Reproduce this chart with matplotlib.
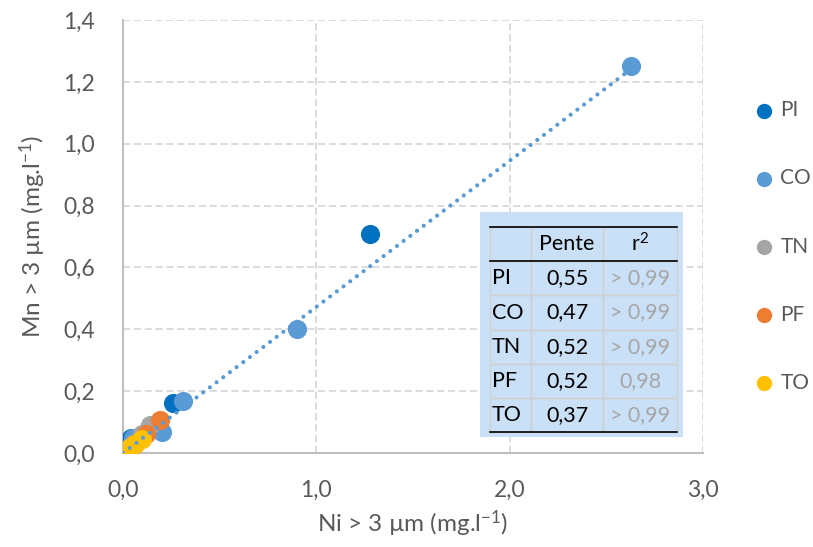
import matplotlib
matplotlib.use("Agg")
import matplotlib.pyplot as plt
import numpy as np
from matplotlib.patches import Rectangle
from matplotlib.ticker import FuncFormatter

plt.rcParams['font.family'] = ['Lato', 'DejaVu Sans']
plt.rcParams['mathtext.fontset'] = 'custom'
plt.rcParams['mathtext.rm'] = 'Lato'
plt.rcParams['mathtext.it'] = 'Lato:italic'

# Ni > 3 um vs Mn > 3 um, per site
sites = ['PI', 'CO', 'TN', 'PF', 'TO']
colors = ['#0070C0', '#5B9BD5', '#A5A5A5', '#ED7D31', '#FFC000']

ni_pi = [1.28, 0.26, 0.04, 0.01]
mn_pi = [0.708, 0.162, 0.048, 0.01]
ni_co = [2.63, 0.90, 0.31, 0.20, 0.05, 0.02]
mn_co = [1.25, 0.40, 0.168, 0.068, 0.05, 0.01]
ni_tn = [0.14, 0.10, 0.05, 0.02]
mn_tn = [0.09, 0.06, 0.03, 0.01]
ni_pf = [0.19, 0.12, 0.06, 0.02]
mn_pf = [0.108, 0.06, 0.03, 0.01]
ni_to = [0.10, 0.06, 0.03, 0.01, 0.0]
mn_to = [0.045, 0.03, 0.015, 0.005, 0.0]

ni = [ni_pi, ni_co, ni_tn, ni_pf, ni_to]
mn = [mn_pi, mn_co, mn_tn, mn_pf, mn_to]

# Table values
pente = ['0,55', '0,47', '0,52', '0,52', '0,37']
r2 = ['> 0,99', '> 0,99', '> 0,99', '0,98', '> 0,99']

fig = plt.figure(figsize=(8.13, 5.47), dpi=100)
ax = fig.add_axes([123/813, 1 - 453/547, 580/813, 433/547])

for i, s in enumerate(sites):
    ax.scatter(ni[i], mn[i], s=190, color=colors[i], label=s, zorder=3, linewidths=0)

# CO trend line (through origin)
x_co = np.array(ni_co)
y_co = np.array(mn_co)
k = np.sum(x_co * y_co) / np.sum(x_co * x_co)
xt = np.array([0.0, x_co.max()])
ax.plot(xt, k * xt, linestyle=(0, (0.01, 2.0)), dash_capstyle='round',
        color='#5B9BD5', lw=3.0, zorder=4)

ax.set_xlim(0, 3.0)
ax.set_ylim(0, 1.4)
ax.set_xticks([0, 1, 2, 3])
ax.set_yticks(np.arange(0, 1.41, 0.2))
fmt = FuncFormatter(lambda v, p: f'{v:.1f}'.replace('.', ','))
ax.xaxis.set_major_formatter(fmt)
ax.yaxis.set_major_formatter(fmt)
ax.tick_params(axis='y', length=0, labelsize=16.5, labelcolor='#595959', pad=20)
ax.tick_params(axis='x', length=0, labelsize=16.5, labelcolor='#595959', pad=19)
ax.grid(True, linestyle=(0, (4, 2)), color='#D9D9D9', lw=1.3, zorder=0)
ax.set_axisbelow(True)
for sp in ['top', 'right']:
    ax.spines[sp].set_visible(False)
for sp in ['left', 'bottom']:
    ax.spines[sp].set_color('#BFBFBF')
    ax.spines[sp].set_linewidth(1.5)

ax.set_xlabel('Ni > 3 µm (mg.l$^{-1}$)', fontsize=17.5, color='#595959', labelpad=6)
ax.set_ylabel('Mn > 3 µm (mg.l$^{-1}$)', fontsize=17.5, color='#595959', labelpad=11)

fig.legend(loc='upper left', bbox_to_anchor=(745/813, 1 - 92/547), frameon=False,
           fontsize=15, labelspacing=2.31, handletextpad=0.3, markerscale=0.8,
           labelcolor='#595959', borderaxespad=0, handlelength=1.0)

# Table box
ax.add_patch(Rectangle((0.6155, 0.037), 0.35, 0.52, transform=ax.transAxes,
                       facecolor='#C9E0F7', edgecolor='none', zorder=5))
cell_text = [['', 'Pente', 'r$^{2}$']] + [[s, p, r] for s, p, r in zip(sites, pente, r2)]
tbl = ax.table(cellText=cell_text, bbox=[0.633, 0.0485, 0.322, 0.473],
               colWidths=[41, 72, 74], cellLoc='center', zorder=6)
tbl.auto_set_font_size(False)
for (r, c), cell in tbl.get_celld().items():
    cell.set_facecolor('none')
    cell.set_edgecolor('#D0D0D0')
    cell.set_linewidth(1.0)
    cell.get_text().set_fontsize(15.5)
    if c == 0:
        cell.get_text().set_ha('left')
        cell._loc = 'left'
        cell.PAD = 0.04
    if c == 2 and r > 0:
        cell.get_text().set_color('#A6A6A6')
nrows = len(cell_text)
for yy in [0.0485, 0.0485 + 0.473 * (nrows - 1) / nrows, 0.0485 + 0.473]:
    ax.plot([0.633, 0.955], [yy, yy], transform=ax.transAxes, color='black',
            lw=1.2, zorder=7, clip_on=False)

fig.savefig('out.png', dpi=100)
